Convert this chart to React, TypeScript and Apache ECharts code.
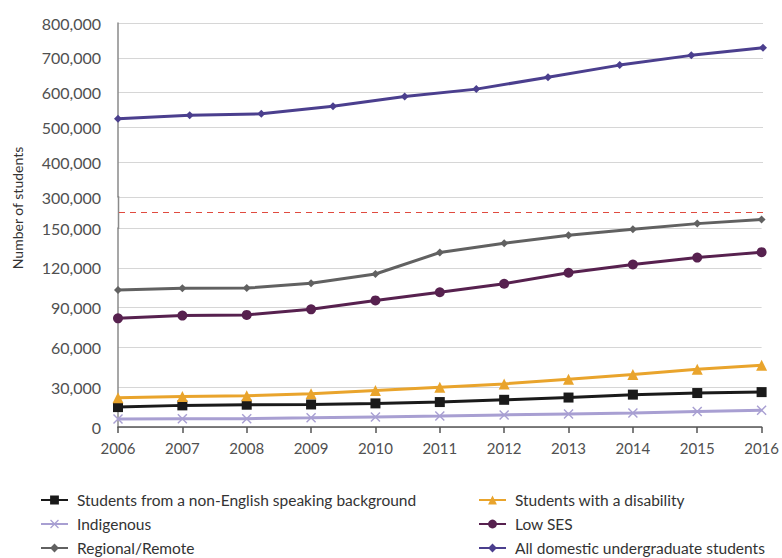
import { useEffect, useRef } from "react";
import * as echarts from "echarts";

// Categories
const years = ["2006", "2007", "2008", "2009", "2010", "2011", "2012", "2013", "2014", "2015", "2016"];
// The upper panel's line is drawn with 10 evenly spaced points across the same span
const domesticSlots = ["p1", "p2", "p3", "p4", "p5", "p6", "p7", "p8", "p9", "p10"];

// Series values (number of students)
const nesb = [15000, 16300, 16800, 17000, 17800, 18800, 20500, 22200, 24400, 25600, 26300];
const indigenous = [6000, 6300, 6300, 6900, 7600, 8300, 9100, 9800, 10500, 11700, 12700];
const regional = [103200, 104500, 104700, 108400, 115300, 131500, 138500, 144600, 149000, 153300, 156400];
const disability = [22000, 23000, 23500, 25000, 27500, 30000, 32500, 36000, 39500, 43500, 46500];
const lowSes = [81900, 84000, 84500, 88700, 95400, 101600, 108000, 116300, 122500, 127700, 131800];
const allDomestic = [525000, 534600, 539000, 561000, 589000, 610000, 644000, 679000, 707000, 729000];

// Axis ranges (broken axis)
const lowerAxis = { min: 0, max: 150000, interval: 30000 };
const upperAxis = { min: 300000, max: 800000, interval: 100000 };

const names = {
  nesb: "Students from a non-English speaking background",
  indigenous: "Indigenous",
  regional: "Regional/Remote",
  disability: "Students with a disability",
  lowSes: "Low SES",
  all: "All domestic undergraduate students",
};

const FONT = "Lato, 'DejaVu Sans', sans-serif";
const crossPath =
  "path://M1,0 L5,4 L9,0 L10,1 L6,5 L10,9 L9,10 L5,6 L1,10 L0,9 L4,5 L0,1 Z";

export default function App() {
  const ref = useRef<HTMLDivElement>(null);

  useEffect(() => {
    if (!ref.current) return;
    const chart = echarts.init(ref.current, undefined, { renderer: "svg" });
    const fmt = (v: number) => v.toLocaleString("en-US");
    const yCommon = {
      type: "value" as const,
      axisLine: { show: true, lineStyle: { color: "#8a8a8a", width: 1.5 } },
      axisTick: { show: false },
      axisLabel: { color: "#505050", fontSize: 16, fontFamily: FONT, margin: 17, formatter: fmt },
      splitLine: { show: true, lineStyle: { color: "#d6d6d6", width: 1 } },
    };
    const lineSeries = (
      name: string,
      data: number[],
      color: string,
      symbol: string,
      symbolSize: number,
      axisIdx: number
    ) => ({
      type: "line" as const,
      name,
      data,
      xAxisIndex: axisIdx,
      yAxisIndex: axisIdx,
      clip: false,
      symbol,
      symbolSize,
      showAllSymbol: true,
      itemStyle: { color },
      lineStyle: { color, width: 3 },
      z: 3,
    });
    const legendCommon = {
      orient: "vertical" as const,
      top: 487,
      height: 90,
      itemWidth: 27,
      itemHeight: 11,
      itemGap: 8,
      textStyle: { color: "#333333", fontSize: 15.5, fontFamily: FONT, padding: [0, 0, 0, 4] },
    };

    chart.setOption({
      animation: false,
      backgroundColor: "#ffffff",
      grid: [
        { left: 118, right: 19, top: 23, bottom: 361 },
        { left: 118, right: 19, top: 228, bottom: 131 },
      ],
      xAxis: [
        {
          type: "category",
          gridIndex: 0,
          data: domesticSlots,
          boundaryGap: false,
          show: false,
        },
        {
          type: "category",
          gridIndex: 1,
          data: years,
          boundaryGap: false,
          axisLine: { show: true, lineStyle: { color: "#555555", width: 1.5 } },
          axisTick: { show: true, length: 6, lineStyle: { color: "#555555", width: 1.5 } },
          axisLabel: { color: "#505050", fontSize: 15, fontFamily: FONT, margin: 13 },
          splitLine: { show: false },
        },
      ],
      yAxis: [
        { ...yCommon, gridIndex: 0, ...upperAxis },
        { ...yCommon, gridIndex: 1, ...lowerAxis },
      ],
      legend: [
        { ...legendCommon, left: 35, data: [names.nesb, names.indigenous, names.regional] },
        { ...legendCommon, left: 473, data: [names.disability, names.lowSes, names.all] },
      ],
      graphic: [
        {
          type: "line",
          shape: { x1: 118.5, y1: 196, x2: 118.5, y2: 229 },
          style: { stroke: "#8a8a8a", lineWidth: 1.5 },
          z: 1,
        },
        {
          type: "line",
          shape: { x1: 119, y1: 212.5, x2: 763, y2: 212.5 },
          style: { stroke: "#e04a3f", lineWidth: 1, lineDash: [6, 5] },
          z: 1,
        },
        {
          type: "text",
          x: 17,
          y: 208,
          rotation: Math.PI / 2,
          style: {
            text: "Number of students",
            fill: "#333333",
            fontSize: 14,
            fontFamily: FONT,
            align: "center",
            verticalAlign: "middle",
          },
        },
      ],
      series: [
        lineSeries(names.nesb, nesb, "#1a1a1a", "rect", 10, 1),
        lineSeries(names.disability, disability, "#e9a42c", "triangle", 11, 1),
        lineSeries(names.indigenous, indigenous, "#a89fd2", crossPath, 10, 1),
        lineSeries(names.lowSes, lowSes, "#57214f", "circle", 10, 1),
        lineSeries(names.regional, regional, "#616161", "diamond", 8, 1),
        lineSeries(names.all, allDomestic, "#4b3f8e", "diamond", 8, 0),
      ],
    });
    return () => chart.dispose();
  }, []);

  return (
    <div
      ref={ref}
      style={{ position: "fixed", left: 0, top: 0, width: 782, height: 558 }}
    />
  );
}
